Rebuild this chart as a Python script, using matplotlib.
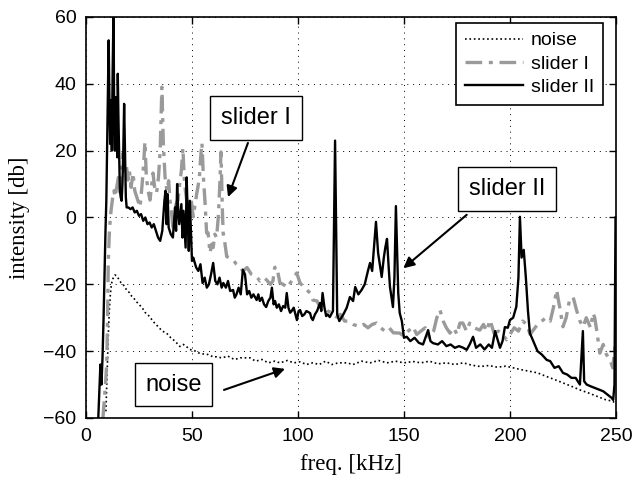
import matplotlib
matplotlib.use('Agg')
import matplotlib.pyplot as plt

# ---- data (freq in kHz, intensity in db) ----
x_ticks = [0, 50, 100, 150, 200, 250]
y_ticks = [-60, -40, -20, 0, 20, 40, 60]

slider2_f = [5.8, 6.3, 6.8, 7.3, 7.8, 8.3, 8.8, 9.2, 9.6, 10.0,
             10.4, 10.7, 11.0, 11.4, 11.8, 12.2, 12.6, 13.0, 13.3, 13.6,
             14.0, 14.4, 14.8, 15.0, 15.3, 15.6, 16.0, 16.4, 16.8, 17.2,
             17.6, 18.0, 18.4, 18.8, 19.2, 20, 21, 22, 23, 24,
             25, 26, 27, 28, 29, 30, 31, 32, 33, 34,
             35, 36, 37, 37.5, 38, 38.5, 39, 40, 41, 42,
             42.5, 43, 43.5, 44, 45, 45.5, 46, 47, 47.5, 48,
             48.5, 49, 50, 50.6, 52, 53, 54, 55, 56, 57,
             58, 59, 60, 61, 62, 63, 64, 64.8, 66, 67,
             68, 69.4, 70.2, 71, 72, 73, 74, 75, 76, 77,
             78, 79, 80.5, 81.3, 82, 83, 84, 85, 86, 87,
             87.7, 88.5, 89.2, 90, 91, 92, 93, 94, 94.7, 95.5,
             96.3, 97, 98, 99.5, 100.3, 101, 102, 103, 104, 105.7,
             106.3, 107, 108, 109, 110.4, 111, 111.6, 112.5, 113.3, 114,
             115, 116.5, 117.5,
             118.5, 119.5, 121.4, 123, 124.5, 126, 127, 128.5, 130, 131.5,
             133, 134, 135, 136, 136.8, 137.8, 138.6, 139.5, 140.5, 141.2,
             142, 142.8, 143.4, 144.8, 145.5, 146.2, 147.3, 148, 149, 150,
             151.3, 153, 155, 157, 159, 161.4, 162.5, 163.7, 166, 168,
             170, 172, 174, 176, 178, 179.6, 181, 182.6, 184, 186,
             188, 190, 191.5, 193, 195.3, 196.5, 197.6, 199, 200, 201.5,
             203, 204, 204.7, 205.5, 206.5, 207.5, 208.5, 209.4, 211, 213,
             215, 217.3, 219, 221, 223, 225, 227, 229, 231, 233,
             234.4, 235, 236.2, 238, 240, 242.4, 244, 246, 248, 248.7,
             249.3, 249.8]
slider2_db = [-60, -52, -44, -50, -42, -30, -15, -4, 5, 22,
              40, 53, 38, 22, 35, 20, 45, 62, 30, 20,
              36, 25, 18, 43, 30, 20, 8, 6, 5, 10,
              20, 34, 20, 6, 3, 3, 2.5, 3, 1.5, 2,
              0.5, 1, -1, 0, -2, -1.5, -3, -2, -4, -6,
              -7, -4, 5, 8, -2, 7, -3, -5, -6, 3,
              -4, 10, 2, -2, 4, -6, 2, -9, 12, 0,
              -10, 5, -13, -12, -15, -16, -14, -19.6, -18, -21,
              -20, -17, -13.6, -19, -20, -18, -21, -19.6, -21, -19,
              -22, -21.7, -24, -23, -21, -23, -15.7, -17, -23, -22,
              -24, -23, -24.7, -23, -25, -24, -26, -26.8, -25, -24,
              -21, -26, -25, -27, -26, -28, -26.5, -27, -22.6, -27,
              -28.5, -28, -27, -30.7, -28, -27.7, -29.5, -29, -28, -28.6,
              -30, -30.7, -29, -28, -25.6, -28, -22.6, -27, -29.5, -29,
              -29.8, -28, 23,
              -29, -31, -29, -27, -23.8, -25, -20.8, -23, -21.7, -20,
              -16, -13.6, -16, -8, -1.3, -10.6, -14, -17.8, -12, -9,
              -6.4, -15, -20.8, -26.8, -18, 3.4, -22.6, -28.6, -31, -36,
              -35.7, -37, -36, -37.5, -38, -33.7, -37, -37.6, -38, -37,
              -38.5, -38, -39, -38.5, -39, -39.6, -38, -35.7, -39, -38,
              -39.5, -38, -39, -34, -39, -37, -32.8, -33, -30.7, -30,
              -26.7, -18, 0.2, -12, -9.7, -18, -28, -34.6, -37, -40,
              -41, -42.6, -43, -45, -44.5, -46.5, -47, -48, -48, -50,
              -34, -49, -50, -50.5, -51, -51.6, -52, -53, -54, -54.6,
              -50, 0]

slider1_f = [8.0, 8.6, 9.2, 9.8, 10.2, 10.5, 11.0, 11.5, 12.0, 12.6,
             13.2, 13.7, 14.5, 15.3, 16.0, 16.8, 17.5, 18.3, 19.0, 19.8,
             20.5, 21.3, 22.2, 23, 24, 25.5, 26.5, 27.2, 27.8, 28.5,
             29.3, 30.2, 31, 31.6, 32.4, 33.3, 34.2, 35, 35.8, 36.5,
             37.3, 38.2, 39, 39.6, 40.3, 41, 41.8, 42.5, 43.4, 44.2,
             45, 45.7, 46.5, 47.5, 48.5, 49.5, 50.6, 51.5, 52.2, 52.8,
             53.5, 54.1, 54.7, 55.4, 56.1, 56.9, 57.6, 58.5, 59.3, 60,
             60.8, 61.6, 62.4, 63.0, 63.7, 64.3, 64.7, 65.5, 66.4, 67.5,
             69.4, 71, 72.6, 74, 76, 78, 80.5, 82, 84, 85.2,
             87, 88.2, 89, 90, 91.5, 93, 95, 97, 99.4, 101,
             103, 105.7, 107, 109, 110.4, 112, 114, 116.5, 118.2, 120,
             122, 124, 126, 129.2, 131, 133, 135, 137, 139, 141,
             143, 145, 148, 150, 152, 154.3, 156, 158, 160, 162,
             164, 165.5, 167, 168.5, 170, 171.7, 173.5, 175, 176.4, 177.8,
             179.5, 181, 183, 185.8, 187.5, 189, 190.6, 192.5, 194.5, 196.5,
             198.4, 200, 202, 204, 206, 208, 209.5, 211, 213, 215,
             217, 219, 220.5, 222, 223.5, 225, 226.5, 228, 229.8, 231.4,
             233, 234.5, 236, 238, 239.2, 240, 241.2, 242.4, 244, 245.5,
             247.2, 248.5, 249.3, 250]
slider1_db = [-60, -55, -50, -43.5, -30, -13.6, -5, 0, 3, 6,
              8, 6.1, 9, 12, 7, 15, 19.3, 14, 16, 11.2,
              14, 9, 13.3, 8, 6, 3.1, 10, 16, 22.6, 12,
              8, 5.2, 10, 13.3, 9, 7.3, 12, 20, 39, 22,
              12.1, 8, 11, 5.2, 2, -2.8, 1, 4, 5.2, 10,
              14, 20.8, 10, 5.2, 3, 6, 0.2, 4, 7, 9.1,
              12, 18, 22.3, 12, 5.2, -4.6, -4.6, -10.6, -8, -9,
              -5, -6, 0, 8, 19.6, 3.1, -4.6, -7.6, -11.7, -12,
              -12.7, -14, -14.7, -16, -15, -17, -17.7, -19, -18, -18.7,
              -20, -19, -15, -14.7, -19.6, -20, -21, -19, -16.6, -19.6,
              -21, -22.6, -24.7, -25, -26.8, -26, -28, -28.6, -29.8, -29,
              -31, -31, -32, -32.7, -32, -33, -32, -31.6, -33, -34,
              -33, -34.5, -34.6, -35.5, -34, -32.7, -35, -34, -33, -36,
              -34, -30, -27.7, -31, -33, -34.6, -33, -35, -31.6, -31.6,
              -34, -31.6, -33, -33.7, -32, -34, -30.7, -34.6, -34, -35,
              -36.6, -35, -33, -34, -31, -32, -35, -33.7, -32, -31,
              -30, -31, -27, -21.7, -27, -32.7, -30, -25, -23.8, -27.7,
              -31, -32.7, -30, -33, -28.6, -30, -35, -40.6, -38, -41,
              -42.6, -45, -40, -36.6]

noise_f = [9.4, 9.8, 10.2, 10.6, 11.0, 11.5, 12.0, 12.5, 13.0, 13.7,
           14.5, 15.5, 16.5, 17.5, 18.5, 19.5, 20.5, 21.5, 22.2, 23.5,
           25, 26.5, 28, 29, 30.2, 31.5, 33, 34.5, 36, 38,
           40, 42, 44.3, 46, 47.5, 49, 51, 53, 55, 57.5,
           60, 61.6, 64, 67, 70, 73, 77.4, 80, 83, 86,
           89, 91.5, 95, 98, 101, 104, 107, 110, 113, 116,
           119, 123, 126, 130, 134, 138, 142, 146, 150, 154.3,
           158, 162, 166, 170, 174, 178, 182, 186, 190, 194,
           198, 201.6, 205, 209, 213, 217.3, 221, 225, 229, 233,
           237, 241, 245, 248.6, 250]
noise_db = [-58, -50, -42, -34, -28, -23, -20, -18.5, -18, -17.2,
            -17.5, -18.5, -19.5, -20, -21, -22, -22.5, -23.5, -23.8, -25,
            -26, -27, -28.5, -29, -29.8, -31, -32, -33, -34, -34.6,
            -36, -37, -38.6, -38, -38.7, -39.5, -39.8, -40.5, -40.8, -41,
            -41.7, -41.7, -42, -41.5, -42.5, -42, -42, -43, -42.5, -43.5,
            -43, -43.5, -42.8, -43.5, -43.2, -44, -43.5, -44, -43, -44,
            -43.5, -43.5, -44, -43, -43.5, -42.8, -43.5, -43, -43.5, -43.1,
            -43.5, -43, -43.8, -43.5, -44, -43.5, -44.2, -44.6, -44.3, -44.8,
            -44.5, -45, -45.5, -46, -46.5, -47.6, -48.5, -49.5, -50.5, -51.6,
            -52.5, -53.5, -54.5, -55, -56]

sans = ['Liberation Sans', 'DejaVu Sans']
serif = ['Liberation Serif', 'DejaVu Serif']
plt.rcParams['font.family'] = sans

fig = plt.figure(figsize=(6.35, 4.82), dpi=100)
ax = fig.add_axes([0.1354, 0.1328, 0.8346, 0.8320])

ax.plot(noise_f, noise_db, color='black', ls=':', lw=1.2, label='noise')
ax.plot(slider1_f, slider1_db, color='#9a9a9a', lw=2.4, dashes=[5, 2, 1.2, 2], label='slider I')
ax.plot(slider2_f, slider2_db, color='black', lw=1.7, label='slider II')

ax.set_xlim(0, 250)
ax.set_ylim(-60, 60)
ax.set_xticks(x_ticks)
ax.set_yticks(y_ticks)
ax.grid(True, color='black', lw=0.7, ls=(0, (1, 5)))
ax.tick_params(direction='in', top=True, right=True, labelsize=14, length=5, width=1, pad=7)
for sp in ax.spines.values():
    sp.set_linewidth(1.2)

ax.set_xlabel('freq. [kHz]', fontsize=16.5, family=serif, va='center')
ax.set_ylabel('intensity [db]', fontsize=16.5, family=serif, va='center')
ax.xaxis.set_label_coords(0.5, -0.117)
ax.yaxis.set_label_coords(-0.125, 0.5)

leg = ax.legend(loc='upper right', bbox_to_anchor=(0.975, 0.985), borderaxespad=0,
                fontsize=14, handlelength=3, fancybox=False, edgecolor='black',
                framealpha=1, borderpad=0.45, labelspacing=0.3, handletextpad=0.4)
leg.get_frame().set_linewidth(1.2)

# text boxes with arrows
box = dict(boxstyle='square,pad=0.45', fc='white', ec='black', lw=1)
arr = dict(arrowstyle='-|>', color='black', lw=1.5, mutation_scale=16, shrinkA=0, shrinkB=0)
ax.text(80.2, 29.8, 'slider I', ha='center', va='center', fontsize=17, bbox=box)
ax.annotate('', xy=(67, 6.1), xytext=(76.4, 22.3), arrowprops=arr)
ax.text(198.6, 8.5, 'slider II', ha='center', va='center', fontsize=17, bbox=box)
ax.annotate('', xy=(149.7, -15.2), xytext=(179.6, 0.8), arrowprops=arr)
ax.text(41.3, -50, 'noise', ha='center', va='center', fontsize=17, bbox=box)
ax.annotate('', xy=(93.9, -45.3), xytext=(65.1, -51.6), arrowprops=arr)

fig.savefig('out.png', dpi=100)
